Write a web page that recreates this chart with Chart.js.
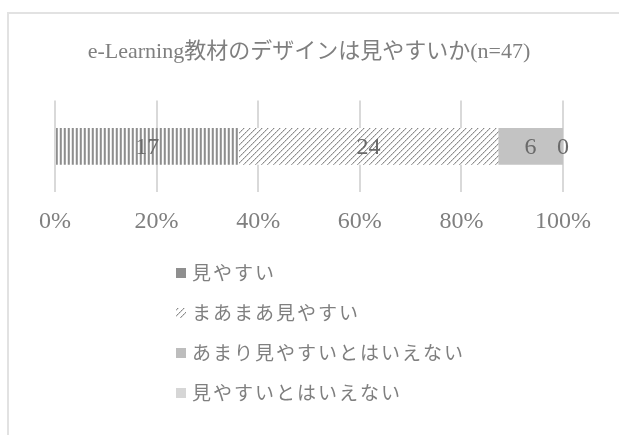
<!DOCTYPE html>
<html lang="ja">
<head>
<meta charset="utf-8">
<title>e-Learning教材のデザイン</title>
<script src="https://cdn.jsdelivr.net/npm/chart.js@4/dist/chart.umd.min.js"></script>
<style>
  html, body { margin: 0; padding: 0; background: #fff; }
  .chart-wrap { position: relative; width: 619px; height: 435px; overflow: hidden; }
  .chart-frame {
    position: absolute; left: 7px; top: 12px; width: 620px; height: 440px;
    border: 2px solid #e2e2e2;
  }
  #designChart { position: absolute; left: 0; top: 0; }
</style>
</head>
<body>
<div class="chart-wrap">
  <div class="chart-frame"></div>
  <canvas id="designChart" width="619" height="435"></canvas>
</div>
<script>
const titleText = 'e-Learning教材のデザインは見やすいか(n=47)';
const categories = ['e-Learning'];
const seriesNames = ['見やすい', 'まあまあ見やすい', 'あまり見やすいとはいえない', '見やすいとはいえない'];
const counts = [17, 24, 6, 0];
const tickLabels = ['0%', '20%', '40%', '60%', '80%', '100%'];

const serif = "'Liberation Serif', 'Noto Sans CJK JP', serif";
const textGray = '#7f7f7f';

// vertical stripes for the first series
function stripePattern() {
  const c = document.createElement('canvas');
  c.width = 4; c.height = 4;
  const g = c.getContext('2d');
  g.fillStyle = '#ffffff'; g.fillRect(0, 0, 4, 4);
  g.fillStyle = '#8e8e8e'; g.fillRect(0, 0, 1, 4);
  g.fillStyle = '#a4a4a4'; g.fillRect(1, 0, 1, 4);
  g.fillStyle = '#e4e4e4'; g.fillRect(3, 0, 1, 4);
  return g.createPattern(c, 'repeat');
}

// dotted "/" hatch for the second series
function hatchPattern() {
  const c = document.createElement('canvas');
  c.width = 6; c.height = 6;
  const g = c.getContext('2d');
  g.fillStyle = '#ffffff'; g.fillRect(0, 0, 6, 6);
  for (let i = 0; i < 6; i++) {
    g.fillStyle = i % 2 ? '#8a8a8a' : '#a8a8a8';
    g.fillRect(i, 5 - i, 1, 1);
    g.fillStyle = '#dadada';
    g.fillRect(i, (6 - i) % 6, 1, 1);
  }
  return g.createPattern(c, 'repeat');
}

const fills = [stripePattern(), hatchPattern(), '#c3c3c3', '#d9d9d9'];
const swatches = ['#8f8f8f', hatchPattern(), '#bdbdbd', '#d6d6d6'];

const total = counts.reduce((a, b) => a + b, 0);

// count labels in the middle of each segment
const valueLabels = {
  id: 'valueLabels',
  afterDatasetsDraw(chart) {
    const ctx = chart.ctx;
    ctx.save();
    ctx.font = '24px ' + serif;
    ctx.fillStyle = '#6a6a6a';
    ctx.textAlign = 'center';
    ctx.textBaseline = 'middle';
    chart.data.datasets.forEach((ds, i) => {
      chart.getDatasetMeta(i).data.forEach(bar => {
        ctx.fillText(String(counts[i]), (bar.x + bar.base) / 2, bar.y + 1);
      });
    });
    ctx.restore();
  }
};

// stacked legend under the axis
const listLegend = {
  id: 'listLegend',
  afterDraw(chart) {
    const ctx = chart.ctx;
    const top = chart.scales.x.bottom + 22;
    const left = 176;
    ctx.save();
    ctx.font = "19px 'Noto Sans CJK JP', sans-serif";
    ctx.letterSpacing = '2px';
    ctx.textBaseline = 'middle';
    seriesNames.forEach((name, i) => {
      const y = top + i * 40;
      ctx.fillStyle = swatches[i];
      ctx.fillRect(left, y - 5, 10, 10);
      ctx.fillStyle = textGray;
      ctx.fillText(name, left + 16, y);
    });
    ctx.restore();
  }
};

new Chart(document.getElementById('designChart'), {
  type: 'bar',
  data: {
    labels: categories,
    datasets: seriesNames.map((name, i) => ({
      label: name,
      data: [counts[i] / total * 100],
      backgroundColor: fills[i],
      borderWidth: 0,
      barThickness: 36
    }))
  },
  options: {
    indexAxis: 'y',
    responsive: false,
    animation: false,
    layout: { padding: { left: 55, right: 56, top: 0, bottom: 184 } },
    plugins: {
      legend: { display: false },
      tooltip: { enabled: false },
      title: {
        display: true,
        text: titleText,
        color: textGray,
        font: { family: serif, size: 22, weight: 'normal' },
        padding: { top: 39, bottom: 35 }
      }
    },
    scales: {
      x: {
        stacked: true,
        min: 0,
        max: 100,
        border: { display: false },
        grid: { color: '#d9d9d9', lineWidth: 2, drawTicks: false },
        ticks: {
          stepSize: 20,
          padding: 15,
          color: textGray,
          font: { family: serif, size: 24 },
          callback: (v, idx) => tickLabels[idx]
        }
      },
      y: {
        stacked: true,
        display: false
      }
    }
  },
  plugins: [valueLabels, listLegend]
});
</script>
</body>
</html>
